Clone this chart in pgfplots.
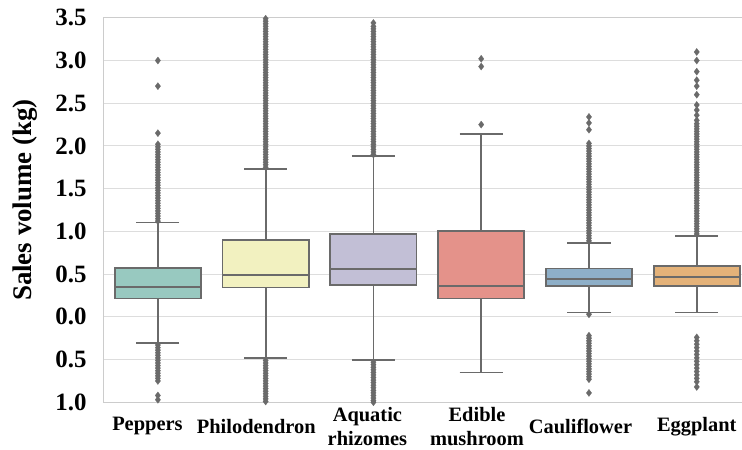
\documentclass[border=0pt]{standalone}
\usepackage{fontspec}
\setmainfont{Liberation Serif}
\usepackage{pgfplots}
\pgfplotsset{compat=1.18}
\usepgfplotslibrary{statistics}
\definecolor{lc}{HTML}{6A6A6A}
\definecolor{gridc}{HTML}{DDDDDD}
\definecolor{spinec}{HTML}{CCCCCC}
\definecolor{c1}{HTML}{98C9C0}
\definecolor{c2}{HTML}{F2F1C0}
\definecolor{c3}{HTML}{C2BFD6}
\definecolor{c4}{HTML}{E4928A}
\definecolor{c5}{HTML}{8EAFC8}
\definecolor{c6}{HTML}{E4B279}
\begin{document}
\begin{tikzpicture}
\path[use as bounding box] (-104bp,-47.7bp) rectangle (638bp,402.3bp);
\begin{axis}[
  at={(0,0)}, anchor=south west,
  scale only axis, width=638bp, height=384.5bp,
  xmin=-0.5, xmax=5.42, ymin=-1, ymax=3.5,
  xtick={-0.097,0.913,1.944,2.961,3.921,5.0},
  xticklabels={Peppers,Philodendron,{Aquatic\\rhizomes},{Edible\\mushroom},Cauliflower,Eggplant},
  ytick={-1,-0.5,0,0.5,1,1.5,2,2.5,3,3.5},
  yticklabels={1.0,0.5,0.0,0.5,1.0,1.5,2.0,2.5,3.0,3.5},
  ymajorgrids, grid style={draw=gridc, line width=1bp},
  axis line style={draw=spinec, line width=1bp},
  major tick length=0pt, tick style={draw=none},
  yticklabel style={font=\fontsize{25}{28}\selectfont\bfseries, xshift=-14bp},
  xticklabel style={font=\fontsize{20.5}{24.5}\selectfont\bfseries, align=center, anchor=center, yshift=-24bp},
  ylabel={Sales volume (kg)},
  ylabel style={font=\fontsize{27}{30}\selectfont\bfseries, at={(axis description cs:0,0.526)}, anchor=center, yshift=79bp},
  boxplot/draw direction=y,
  boxplot/box extend=0.8, boxplot/whisker extend=0.4,
  boxplot/every whisker/.style={draw=lc, line width=1.8bp},
  boxplot/every median/.style={draw=lc, line width=1.8bp},
  boxplot/every box/.style={draw=lc, line width=1.8bp},
  bx/.style={draw=lc, line width=1.8bp, mark=diamond*, mark size=3.6bp,
    mark options={fill=lc, draw=lc, line width=0.2bp}},
]
\addplot[bx, fill=c1, boxplot prepared={draw position=0, lower whisker=-0.308, lower quartile=0.215, median=0.348, upper quartile=0.574, upper whisker=1.105}]
 table[row sep=\\, y index=0] {v\\ 1.12\\ 1.15\\ 1.18\\ 1.21\\ 1.24\\ 1.27\\ 1.30\\ 1.33\\ 1.36\\ 1.39\\ 1.42\\ 1.45\\ 1.48\\ 1.51\\ 1.54\\ 1.57\\ 1.60\\ 1.63\\ 1.66\\ 1.69\\ 1.72\\ 1.75\\ 1.78\\ 1.81\\ 1.84\\ 1.87\\ 1.90\\ 1.93\\ 1.96\\ 1.99\\ 2.02\\ 2.15\\ 2.70\\ 3.00\\ -0.33\\ -0.36\\ -0.39\\ -0.42\\ -0.45\\ -0.48\\ -0.51\\ -0.54\\ -0.57\\ -0.60\\ -0.63\\ -0.66\\ -0.69\\ -0.72\\ -0.75\\ -0.92\\ -0.97\\};
\addplot[bx, fill=c2, boxplot prepared={draw position=1, lower whisker=-0.484, lower quartile=0.344, median=0.492, upper quartile=0.898, upper whisker=1.726}]
 table[row sep=\\, y index=0] {v\\ 1.75\\ 1.78\\ 1.81\\ 1.84\\ 1.87\\ 1.90\\ 1.93\\ 1.96\\ 1.99\\ 2.02\\ 2.05\\ 2.08\\ 2.11\\ 2.14\\ 2.17\\ 2.20\\ 2.23\\ 2.26\\ 2.29\\ 2.32\\ 2.35\\ 2.38\\ 2.41\\ 2.44\\ 2.47\\ 2.50\\ 2.53\\ 2.56\\ 2.59\\ 2.62\\ 2.65\\ 2.68\\ 2.71\\ 2.74\\ 2.77\\ 2.80\\ 2.83\\ 2.86\\ 2.89\\ 2.92\\ 2.95\\ 2.98\\ 3.01\\ 3.04\\ 3.07\\ 3.10\\ 3.13\\ 3.16\\ 3.19\\ 3.22\\ 3.25\\ 3.28\\ 3.31\\ 3.34\\ 3.37\\ 3.40\\ 3.43\\ 3.46\\ 3.49\\ 3.52\\ -0.51\\ -0.54\\ -0.57\\ -0.60\\ -0.63\\ -0.66\\ -0.69\\ -0.72\\ -0.75\\ -0.78\\ -0.81\\ -0.84\\ -0.87\\ -0.90\\ -0.93\\ -0.96\\ -0.99\\ -1.02\\};
\addplot[bx, fill=c3, boxplot prepared={draw position=2, lower whisker=-0.507, lower quartile=0.375, median=0.562, upper quartile=0.972, upper whisker=1.885}]
 table[row sep=\\, y index=0] {v\\ 1.90\\ 1.93\\ 1.96\\ 1.99\\ 2.02\\ 2.05\\ 2.08\\ 2.11\\ 2.14\\ 2.17\\ 2.20\\ 2.23\\ 2.26\\ 2.29\\ 2.32\\ 2.35\\ 2.38\\ 2.41\\ 2.44\\ 2.47\\ 2.50\\ 2.53\\ 2.56\\ 2.59\\ 2.62\\ 2.65\\ 2.68\\ 2.71\\ 2.74\\ 2.77\\ 2.80\\ 2.83\\ 2.86\\ 2.89\\ 2.92\\ 2.95\\ 2.98\\ 3.01\\ 3.04\\ 3.07\\ 3.10\\ 3.13\\ 3.16\\ 3.19\\ 3.22\\ 3.25\\ 3.28\\ 3.31\\ 3.34\\ 3.37\\ 3.40\\ 3.44\\ -0.53\\ -0.56\\ -0.59\\ -0.62\\ -0.65\\ -0.68\\ -0.71\\ -0.74\\ -0.77\\ -0.80\\ -0.83\\ -0.86\\ -0.89\\ -0.92\\ -0.95\\ -0.98\\ -1.00\\};
\addplot[bx, fill=c4, boxplot prepared={draw position=3, lower whisker=-0.651, lower quartile=0.215, median=0.359, upper quartile=1.007, upper whisker=2.136}]
 table[row sep=\\, y index=0] {v\\ 2.25\\ 2.93\\ 3.02\\ -1.02\\};
\addplot[bx, fill=c5, boxplot prepared={draw position=4, lower whisker=0.051, lower quartile=0.359, median=0.441, upper quartile=0.567, upper whisker=0.867}]
 table[row sep=\\, y index=0] {v\\ 0.89\\ 0.92\\ 0.95\\ 0.98\\ 1.01\\ 1.04\\ 1.07\\ 1.10\\ 1.13\\ 1.16\\ 1.19\\ 1.22\\ 1.25\\ 1.28\\ 1.31\\ 1.34\\ 1.37\\ 1.40\\ 1.43\\ 1.46\\ 1.49\\ 1.52\\ 1.55\\ 1.58\\ 1.61\\ 1.64\\ 1.67\\ 1.70\\ 1.73\\ 1.76\\ 1.79\\ 1.82\\ 1.85\\ 1.88\\ 1.91\\ 1.94\\ 1.97\\ 2.00\\ 2.03\\ 2.19\\ 2.27\\ 2.34\\ 0.03\\ -0.22\\ -0.25\\ -0.28\\ -0.31\\ -0.34\\ -0.37\\ -0.40\\ -0.43\\ -0.46\\ -0.49\\ -0.52\\ -0.55\\ -0.58\\ -0.61\\ -0.64\\ -0.67\\ -0.70\\ -0.73\\ -0.89\\};
\addplot[bx, fill=c6, boxplot prepared={draw position=5, lower whisker=0.051, lower quartile=0.359, median=0.469, upper quartile=0.594, upper whisker=0.949}]
 table[row sep=\\, y index=0] {v\\ 0.97\\ 1.00\\ 1.03\\ 1.06\\ 1.09\\ 1.12\\ 1.15\\ 1.18\\ 1.21\\ 1.24\\ 1.27\\ 1.30\\ 1.33\\ 1.36\\ 1.39\\ 1.42\\ 1.45\\ 1.48\\ 1.51\\ 1.54\\ 1.57\\ 1.60\\ 1.63\\ 1.66\\ 1.69\\ 1.72\\ 1.75\\ 1.78\\ 1.81\\ 1.84\\ 1.87\\ 1.90\\ 1.93\\ 1.96\\ 1.99\\ 2.02\\ 2.05\\ 2.08\\ 2.11\\ 2.14\\ 2.17\\ 2.20\\ 2.23\\ 2.26\\ 2.30\\ 2.36\\ 2.42\\ 2.48\\ 2.60\\ 2.70\\ 2.77\\ 2.87\\ 3.00\\ 3.10\\ -0.24\\ -0.28\\ -0.32\\ -0.36\\ -0.40\\ -0.44\\ -0.48\\ -0.52\\ -0.56\\ -0.60\\ -0.64\\ -0.68\\ -0.72\\ -0.76\\ -0.82\\};
\end{axis}
\end{tikzpicture}
\end{document}
